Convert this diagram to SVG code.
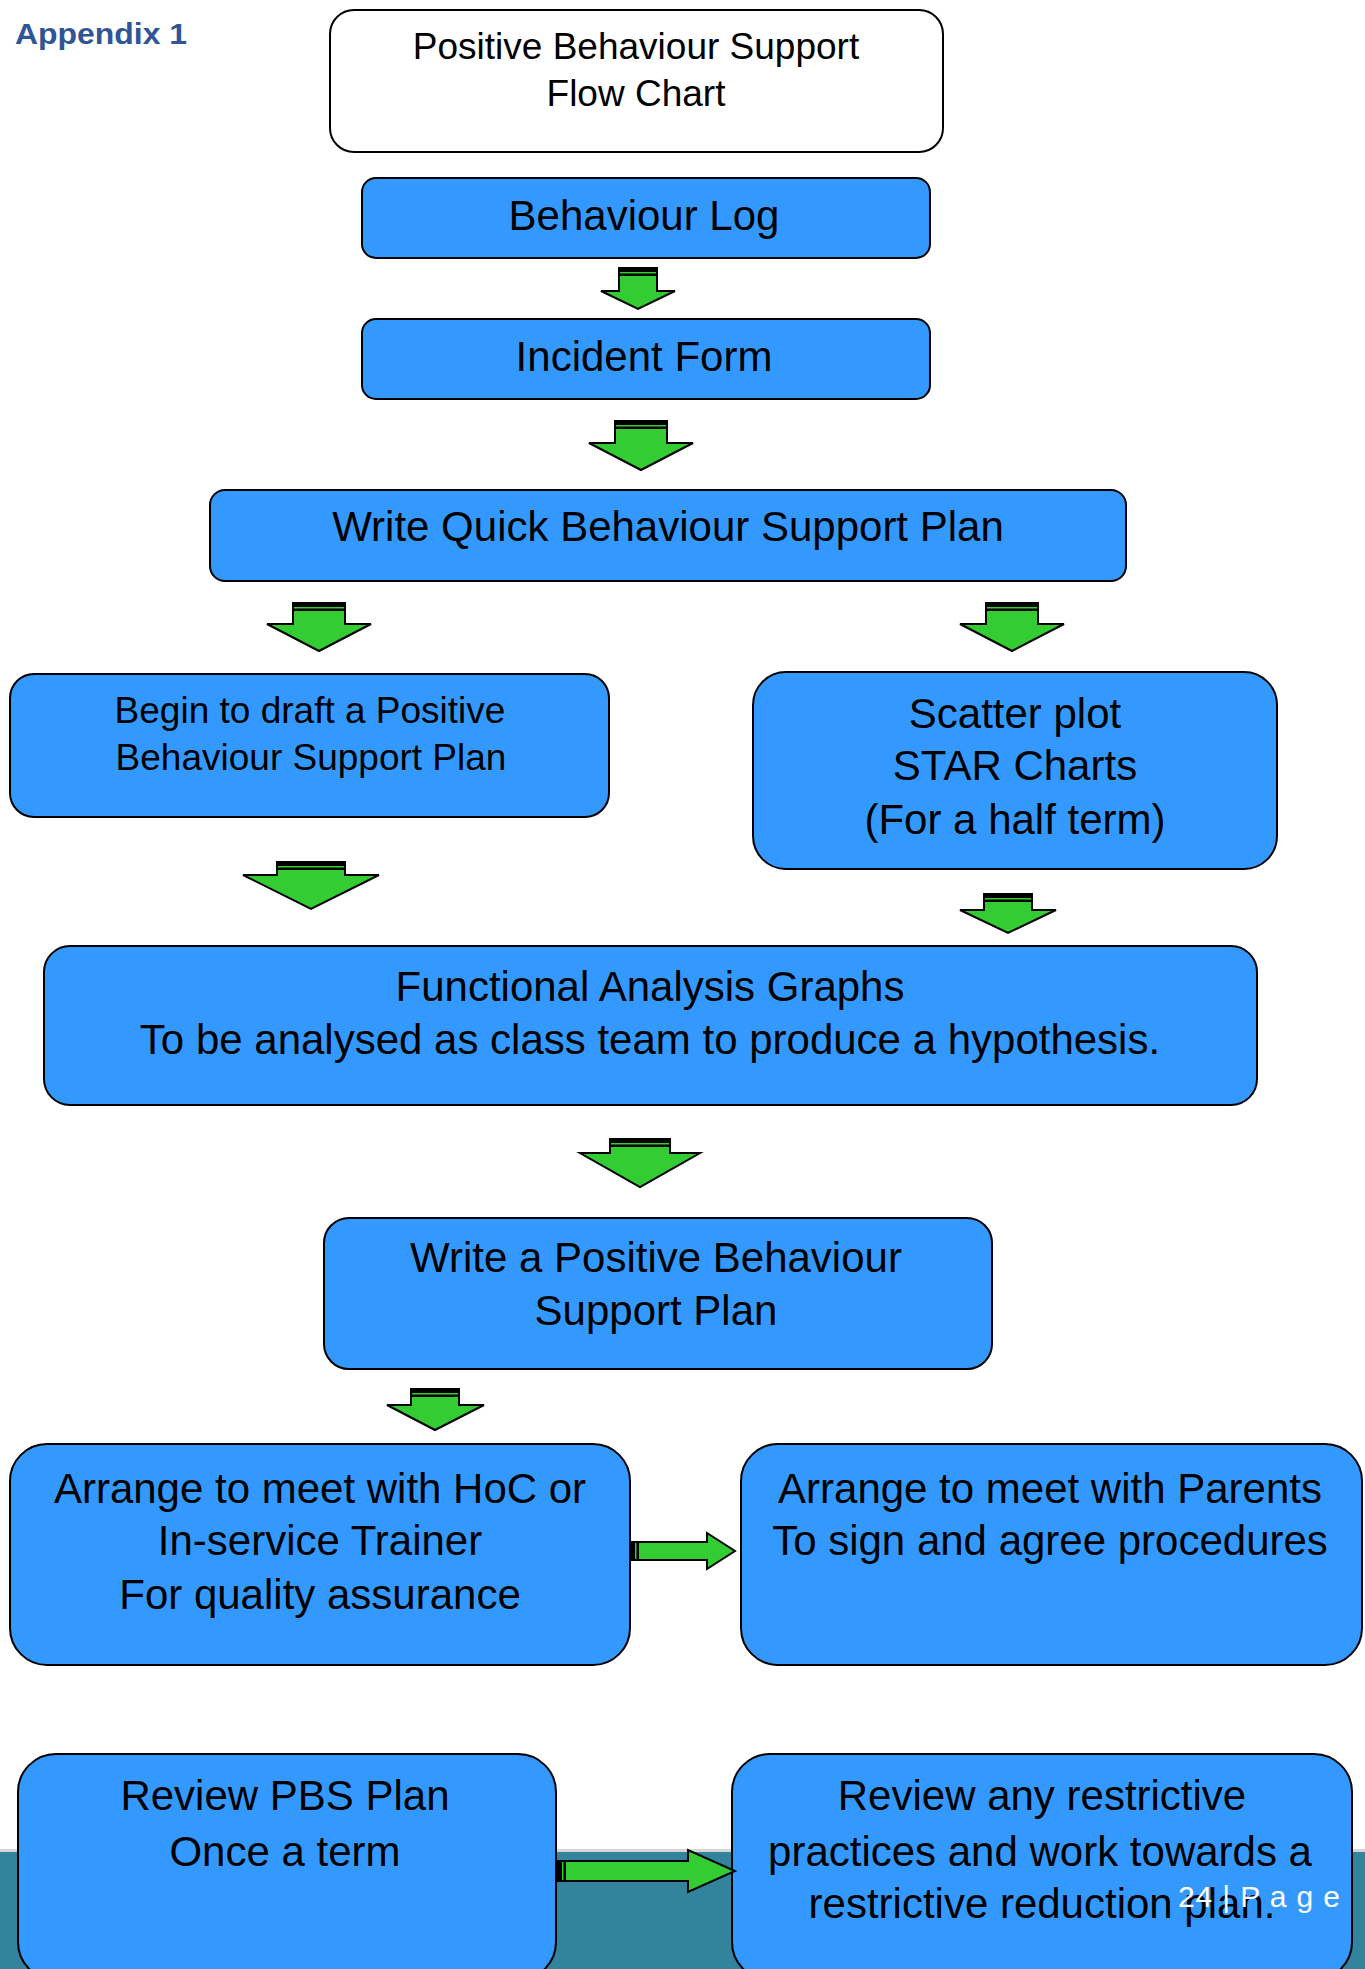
<svg xmlns="http://www.w3.org/2000/svg" width="1365" height="1969" viewBox="0 0 1365 1969">
<style>
.box{fill:#3399ff;stroke:#000;stroke-width:2}
.title{fill:#fff;stroke:#000;stroke-width:2}
.t{font-family:"Liberation Sans",Arial,sans-serif;font-size:42px;fill:#000;text-anchor:middle}
.s{font-size:37px}
.arr{fill:#33cc33;stroke:#000;stroke-width:2;stroke-linejoin:miter}
.st{fill:#000}
</style>
<rect x="0" y="0" width="1365" height="1969" fill="#fff"/>
<g id="footer-band">
<rect x="0" y="1849" width="1365" height="3" fill="#d6d6d6"/>
<rect x="0" y="1852" width="1365" height="117" fill="#31849b"/>
</g>
<text x="15" y="44" font-family="'Liberation Sans',Arial,sans-serif" font-weight="bold" font-size="29" fill="#2f5597" textLength="172" lengthAdjust="spacingAndGlyphs">Appendix 1</text>
<g id="n-title">
<rect class="title" x="330" y="10" width="613" height="142" rx="24"/>
<text class="t s" x="636" y="59">Positive Behaviour Support</text>
<text class="t s" x="636" y="106">Flow Chart</text>
</g>
<g id="n-behaviour-log">
<rect class="box" x="362" y="178" width="568" height="80" rx="14"/>
<text class="t" x="644" y="230">Behaviour Log</text>
</g>
<g id="n-incident-form">
<rect class="box" x="362" y="319" width="568" height="80" rx="14"/>
<text class="t" x="644" y="371">Incident Form</text>
</g>
<g id="n-quick-bsp">
<rect class="box" x="210" y="490" width="916" height="91" rx="15"/>
<text class="t" x="668" y="541">Write Quick Behaviour Support Plan</text>
</g>
<g id="n-draft-pbsp">
<rect class="box" x="10" y="674" width="599" height="143" rx="24"/>
<text class="t s" x="310" y="723">Begin to draft a Positive</text>
<text class="t s" x="311" y="770">Behaviour Support Plan</text>
</g>
<g id="n-scatter">
<rect class="box" x="753" y="672" width="524" height="197" rx="33"/>
<text class="t" x="1015" y="728">Scatter plot</text>
<text class="t" x="1015" y="780">STAR Charts</text>
<text class="t" x="1015" y="834">(For a half term)</text>
</g>
<g id="n-functional">
<rect class="box" x="44" y="946" width="1213" height="159" rx="26"/>
<text class="t" x="650" y="1001">Functional Analysis Graphs</text>
<text class="t" x="650" y="1054">To be analysed as class team to produce a hypothesis.</text>
</g>
<g id="n-write-pbsp">
<rect class="box" x="324" y="1218" width="668" height="151" rx="25"/>
<text class="t" x="656" y="1272">Write a Positive Behaviour</text>
<text class="t" x="656" y="1325">Support Plan</text>
</g>
<g id="n-hoc">
<rect class="box" x="10" y="1444" width="620" height="221" rx="37"/>
<text class="t" x="320" y="1503">Arrange to meet with HoC or</text>
<text class="t" x="320" y="1555">In-service Trainer</text>
<text class="t" x="320" y="1609">For quality assurance</text>
</g>
<g id="n-parents">
<rect class="box" x="741" y="1444" width="621" height="221" rx="37"/>
<text class="t" x="1050" y="1503">Arrange to meet with Parents</text>
<text class="t" x="1050" y="1555">To sign and agree procedures</text>
</g>
<g id="n-review-pbs">
<rect class="box" x="18" y="1754" width="538" height="226" rx="38"/>
<text class="t" x="285" y="1810">Review PBS Plan</text>
<text class="t" x="285" y="1866">Once a term</text>
</g>
<g id="n-review-restrictive">
<rect class="box" x="732" y="1754" width="620" height="226" rx="38"/>
<text class="t" x="1042" y="1810">Review any restrictive</text>
<text class="t" x="1040" y="1866">practices and work towards a</text>
<text class="t" x="1042" y="1918">restrictive reduction plan.</text>
</g>
<g id="connectors">
<g><polygon class="arr" points="619,268 657,268 657,291 675,291 638,309 601,291 619,291"/><rect class="st" x="619" y="268" width="38" height="4"/><rect class="st" x="619" y="273.5" width="38" height="2.5"/></g>
<g><polygon class="arr" points="615,421 667,421 667,443 693,443 641,470 589,443 615,443"/><rect class="st" x="615" y="421" width="52" height="4"/><rect class="st" x="615" y="426.5" width="52" height="2.5"/></g>
<g><polygon class="arr" points="293,603 345,603 345,624 371,624 319,651 267,624 293,624"/><rect class="st" x="293" y="603" width="52" height="4"/><rect class="st" x="293" y="608.5" width="52" height="2.5"/></g>
<g><polygon class="arr" points="986,603 1038,603 1038,624 1064,624 1012,651 960,624 986,624"/><rect class="st" x="986" y="603" width="52" height="4"/><rect class="st" x="986" y="608.5" width="52" height="2.5"/></g>
<g><polygon class="arr" points="277,862 345,862 345,875 379,875 311,909 243,875 277,875"/><rect class="st" x="277" y="862" width="68" height="4"/><rect class="st" x="277" y="867.5" width="68" height="2.5"/></g>
<g><polygon class="arr" points="984,894 1032,894 1032,910 1056,910 1008,933 960,910 984,910"/><rect class="st" x="984" y="894" width="48" height="4"/><rect class="st" x="984" y="899.5" width="48" height="2.5"/></g>
<g><polygon class="arr" points="610,1139 670,1139 670,1153 700,1153 640,1187 580,1153 610,1153"/><rect class="st" x="610" y="1139" width="60" height="4"/><rect class="st" x="610" y="1144.5" width="60" height="2.5"/></g>
<g><polygon class="arr" points="411,1389 459,1389 459,1405 484,1405 435,1430 387,1405 411,1405"/><rect class="st" x="411" y="1389" width="48" height="4"/><rect class="st" x="411" y="1394.5" width="48" height="2.5"/></g>
<g><polygon class="arr" points="631,1542 707,1542 707,1533 735,1551 707,1569 707,1560 631,1560"/><rect class="st" x="631" y="1542" width="4" height="18"/><rect class="st" x="636.5" y="1542" width="2.5" height="18"/></g>
<g><polygon class="arr" points="558,1861 688,1861 688,1850 735,1871 688,1892 688,1881 558,1881"/><rect class="st" x="558" y="1861" width="4" height="20"/><rect class="st" x="563.5" y="1861" width="2.5" height="20"/></g>
</g>
<text x="1178" y="1907" font-family="'Liberation Sans',Arial,sans-serif" font-size="30" fill="#fff" textLength="162" lengthAdjust="spacing">24 | P a g e</text>
</svg>
